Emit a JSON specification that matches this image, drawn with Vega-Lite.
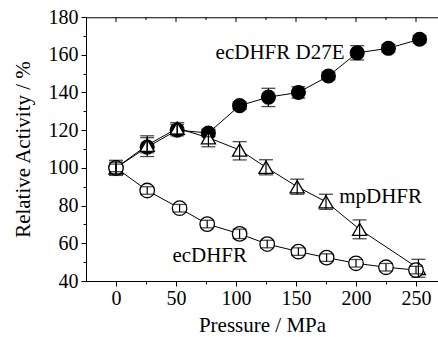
{
  "$schema": "https://vega.github.io/schema/vega-lite/v6.json",
  "width": 352,
  "height": 264,
  "autosize": {"type": "none"},
  "padding": {"left": 86, "top": 17, "right": 0, "bottom": 56},
  "background": "white",
  "config": {
    "view": {"stroke": null},
    "font": "Liberation Serif",
    "text": {"font": "Liberation Serif"},
    "axis": {
      "domainColor": "black",
      "domainWidth": 1,
      "tickColor": "black",
      "tickWidth": 1,
      "labelColor": "black",
      "titleColor": "black",
      "labelFont": "Liberation Serif",
      "titleFont": "Liberation Serif",
      "labelFontSize": 20,
      "titleFontSize": 21,
      "titleFontWeight": "normal",
      "labelOverlap": false,
      "labelFlush": false,
      "grid": false
    }
  },
  "layer": [
    {
      "data": {
        "values": [
          {"s": "D27E", "p": 0, "v": 100, "lo": 98, "hi": 102},
          {"s": "D27E", "p": 26, "v": 111, "lo": 106, "hi": 117},
          {"s": "D27E", "p": 51, "v": 120, "lo": 117, "hi": 123},
          {"s": "D27E", "p": 77, "v": 118.5, "lo": 116.5, "hi": 120.5},
          {"s": "D27E", "p": 103, "v": 133, "lo": 131, "hi": 135},
          {"s": "D27E", "p": 127, "v": 137.5, "lo": 132.5, "hi": 142.2},
          {"s": "D27E", "p": 152, "v": 140, "lo": 137, "hi": 143},
          {"s": "D27E", "p": 177, "v": 148.7, "lo": 146.7, "hi": 150.7},
          {"s": "D27E", "p": 201, "v": 161, "lo": 157.2, "hi": 164.8},
          {"s": "D27E", "p": 227, "v": 163.4, "lo": 161.4, "hi": 165.4},
          {"s": "D27E", "p": 253, "v": 168.2, "lo": 166.2, "hi": 170.2},
          {"s": "mp", "p": 0, "v": 100, "lo": 96, "hi": 104},
          {"s": "mp", "p": 26, "v": 112, "lo": 108, "hi": 116},
          {"s": "mp", "p": 51, "v": 121, "lo": 118, "hi": 124},
          {"s": "mp", "p": 77, "v": 116, "lo": 111.2, "hi": 120},
          {"s": "mp", "p": 103, "v": 109.5, "lo": 104.2, "hi": 113.9},
          {"s": "mp", "p": 125, "v": 100.3, "lo": 96.3, "hi": 104.3},
          {"s": "mp", "p": 151, "v": 90, "lo": 86, "hi": 94},
          {"s": "mp", "p": 175, "v": 82, "lo": 78, "hi": 86},
          {"s": "mp", "p": 203, "v": 67.4, "lo": 62.4, "hi": 72.4},
          {"s": "mp", "p": 252, "v": 46.7, "lo": 42, "hi": 51.5},
          {"s": "ec", "p": 0, "v": 100, "lo": 97, "hi": 103},
          {"s": "ec", "p": 26, "v": 88, "lo": 86, "hi": 90},
          {"s": "ec", "p": 53, "v": 78.6, "lo": 76.6, "hi": 80.6},
          {"s": "ec", "p": 76, "v": 70.2, "lo": 68.2, "hi": 72.2},
          {"s": "ec", "p": 103, "v": 65, "lo": 62.5, "hi": 67.5},
          {"s": "ec", "p": 126, "v": 59.6, "lo": 57.6, "hi": 61.6},
          {"s": "ec", "p": 152, "v": 55.6, "lo": 53.6, "hi": 57.6},
          {"s": "ec", "p": 175.5, "v": 52.4, "lo": 50.4, "hi": 54.4},
          {"s": "ec", "p": 200, "v": 49.4, "lo": 47.4, "hi": 51.4},
          {"s": "ec", "p": 225, "v": 47.3, "lo": 45.3, "hi": 49.3},
          {"s": "ec", "p": 250, "v": 45.8, "lo": 43.8, "hi": 47.8}
        ]
      },
      "encoding": {
        "x": {
          "field": "p",
          "type": "quantitative",
          "scale": {"domain": [-25, 268.3333], "nice": false, "zero": false},
          "axis": {
            "orient": "bottom",
            "title": "Pressure / MPa",
            "values": [0, 25, 50, 75, 100, 125, 150, 175, 200, 225, 250],
            "labelExpr": "datum.value % 50 === 0 ? datum.label : ''",
            "tickSize": {"condition": {"test": "datum.value % 50 !== 0", "value": 3}, "value": 5},
            "labelPadding": 2,
            "titlePadding": 6
          }
        },
        "y": {
          "field": "v",
          "type": "quantitative",
          "scale": {"domain": [40, 180], "nice": false, "zero": false},
          "axis": {
            "orient": "left",
            "title": "Relative Activity / %",
            "values": [40, 50, 60, 70, 80, 90, 100, 110, 120, 130, 140, 150, 160, 170, 180],
            "labelExpr": "datum.value % 20 === 0 ? datum.label : ''",
            "tickSize": {"condition": {"test": "datum.value % 20 !== 0", "value": 3}, "value": 5},
            "labelPadding": 3,
            "titlePadding": 15
          }
        }
      },
      "layer": [
        {
          "mark": {"type": "line", "color": "black", "strokeWidth": 1},
          "encoding": {"detail": {"field": "s"}}
        },
        {
          "mark": {"type": "point", "filled": true, "stroke": "black", "strokeWidth": 1.3, "opacity": 1},
          "encoding": {
            "shape": {"field": "s", "type": "nominal", "scale": {"domain": ["D27E", "mp", "ec"], "range": ["circle", "triangle-up", "circle"]}, "legend": null},
            "fill": {"field": "s", "type": "nominal", "scale": {"domain": ["D27E", "mp", "ec"], "range": ["black", "white", "white"]}, "legend": null},
            "size": {"field": "s", "type": "nominal", "scale": {"domain": ["D27E", "mp", "ec"], "range": [190, 210, 160]}, "legend": null}
          }
        },
        {
          "mark": {"type": "rule", "color": "black", "strokeWidth": 1.2},
          "encoding": {"y": {"field": "lo", "type": "quantitative"}, "y2": {"field": "hi"}}
        },
        {
          "mark": {"type": "tick", "orient": "horizontal", "color": "black", "size": 14, "thickness": 1.3},
          "encoding": {"y": {"field": "lo", "type": "quantitative"}}
        },
        {
          "mark": {"type": "tick", "orient": "horizontal", "color": "black", "size": 14, "thickness": 1.3},
          "encoding": {"y": {"field": "hi", "type": "quantitative"}}
        }
      ]
    },
    {
      "data": {
        "values": [
          {"label": "ecDHFR D27E", "p": 83, "v": 161},
          {"label": "mpDHFR", "p": 186, "v": 84.7},
          {"label": "ecDHFR", "p": 47, "v": 53}
        ]
      },
      "mark": {"type": "text", "align": "left", "baseline": "middle", "font": "Liberation Serif", "fontSize": 21, "color": "black"},
      "encoding": {
        "x": {
          "field": "p",
          "type": "quantitative",
          "scale": {"domain": [-25, 268.3333], "nice": false, "zero": false},
          "axis": null
        },
        "y": {
          "field": "v",
          "type": "quantitative",
          "scale": {"domain": [40, 180], "nice": false, "zero": false},
          "axis": null
        },
        "text": {"field": "label"}
      }
    },
    {
      "data": {"values": [{}]},
      "mark": {"type": "rule", "color": "black", "strokeWidth": 1.2},
      "encoding": {
        "x": {"datum": -25, "type": "quantitative", "scale": {"domain": [-25, 268.3333], "nice": false, "zero": false}, "axis": null},
        "x2": {"datum": 268.3333},
        "y": {"datum": 179.6, "type": "quantitative", "scale": {"domain": [40, 180], "nice": false, "zero": false}, "axis": null}
      }
    },
    {
      "data": {
        "values": [
          {"p": 0}, {"p": 25}, {"p": 50}, {"p": 75}, {"p": 100}, {"p": 125},
          {"p": 150}, {"p": 175}, {"p": 200}, {"p": 225}, {"p": 250}
        ]
      },
      "encoding": {
        "x": {"field": "p", "type": "quantitative", "scale": {"domain": [-25, 268.3333], "nice": false, "zero": false}, "axis": null},
        "y": {"datum": 180, "type": "quantitative", "scale": {"domain": [40, 180], "nice": false, "zero": false}, "axis": null}
      },
      "layer": [
        {
          "transform": [{"filter": "datum.p % 50 === 0"}],
          "mark": {"type": "rule", "color": "black", "strokeWidth": 1},
          "encoding": {"y2": {"datum": 177.3}}
        },
        {
          "transform": [{"filter": "datum.p % 50 !== 0"}],
          "mark": {"type": "rule", "color": "black", "strokeWidth": 1},
          "encoding": {"y2": {"datum": 178.4}}
        }
      ]
    }
  ],
  "resolve": {
    "scale": {"x": "independent", "y": "independent"},
    "axis": {"x": "independent", "y": "independent"}
  }
}
